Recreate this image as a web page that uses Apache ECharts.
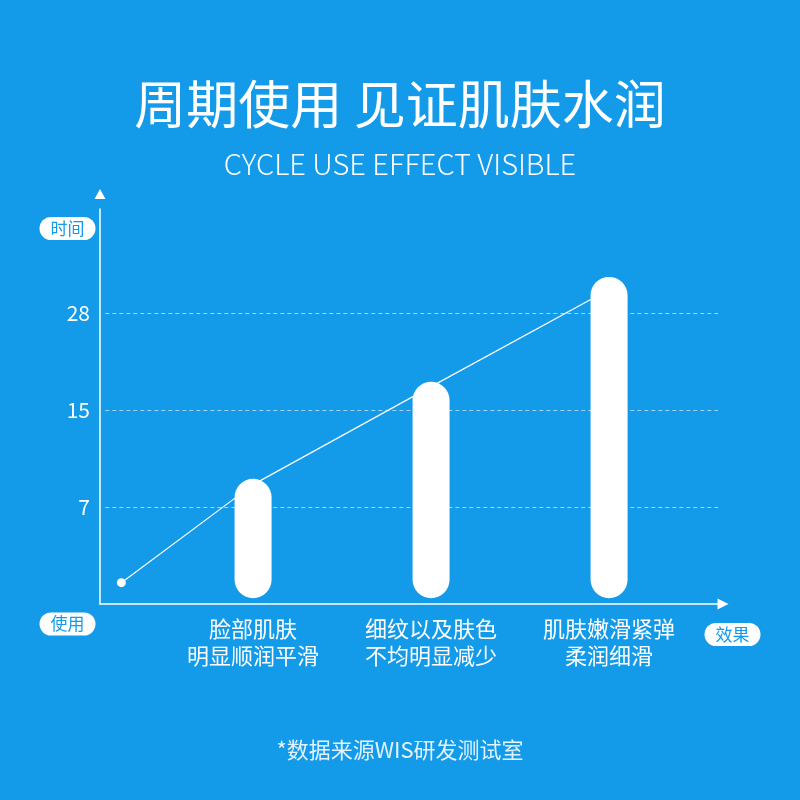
<!DOCTYPE html>
<html>
<head>
<meta charset="utf-8">
<script src="https://cdn.jsdelivr.net/npm/echarts@6/dist/echarts.min.js"></script>
<style>html,body{margin:0;padding:0;background:#139ae9;}#c{width:800px;height:800px;}</style>
</head>
<body>
<div id="c"></div>
<script>
// categories (effects) and their positions on the x axis
const categories = ['脸部肌肤\n明显顺润平滑', '细纹以及肤色\n不均明显减少', '肌肤嫩滑紧弹\n柔润细滑'];
const categoryPos = [1, 2, 3];
// y tick labels (days) at axis positions 1,2,3
const yTickLabels = ['7', '15', '28'];
const yTickPos = [1, 2, 3];
// bars: bottom and top (axis units)
const barBottom = [0.06, 0.06, 0.06];
const barTop = [1.29, 2.29, 3.37];
// trend line points
const lineX = [0.26, 1, 2, 3];
const lineY = [0.22, 1.23, 2.24, 3.24];

const BG = '#139ae9';
const FONT = 'Noto Sans CJK SC';

const barData = categoryPos.map((x, i) => [x, barBottom[i], barTop[i]]);
const lineData = lineX.map((x, i) => [x, lineY[i]]);

const chart = echarts.init(document.getElementById('c'));
chart.setOption({
  backgroundColor: BG,
  textStyle: { fontFamily: FONT },
  animation: false,
  title: [
    { text: '周期使用 见证肌肤水润', left: 'center', top: 70,
      textStyle: { color: '#fff', fontSize: 52, fontWeight: 'normal', lineHeight: 58, fontFamily: FONT } },
    { text: 'CYCLE USE EFFECT VISIBLE', left: 'center', top: 142,
      textStyle: { color: '#fff', fontSize: 29, fontWeight: 300, lineHeight: 34, fontFamily: FONT } },
    { text: '*数据来源WIS研发测试室', left: 'center', top: 731,
      textStyle: { color: 'rgba(255,255,255,0.88)', fontSize: 22, fontWeight: 'normal', lineHeight: 27, fontFamily: FONT } }
  ],
  grid: { left: 100, right: 82, top: 209, bottom: 196 },
  xAxis: {
    type: 'value', min: 0.14, max: 3.612,
    axisLine: { show: true, lineStyle: { color: '#fff', width: 1.5 },
      symbol: ['none', 'triangle'], symbolSize: [11, 11], symbolOffset: [0, 5] },
    axisTick: { show: false },
    splitLine: { show: false },
    axisLabel: {
      customValues: categoryPos,
      formatter: v => categories[categoryPos.indexOf(v)] || '',
      color: '#fff', fontSize: 22, lineHeight: 27, margin: 11, fontFamily: FONT
    }
  },
  yAxis: {
    type: 'value', min: 0, max: 4.07,
    axisLine: { show: true, lineStyle: { color: '#fff', width: 1.5 },
      symbol: ['none', 'triangle'], symbolSize: [11, 10], symbolOffset: [0, 15] },
    axisTick: { show: false },
    splitLine: { show: false },
    axisLabel: {
      customValues: yTickPos,
      formatter: v => yTickLabels[yTickPos.indexOf(v)] || '',
      color: '#fff', fontSize: 21, margin: 10, fontFamily: FONT
    }
  },
  series: [
    {
      type: 'line', z: 2, data: lineData,
      symbol: 'circle', symbolSize: 9, showSymbol: true,
      itemStyle: { color: '#fff' },
      lineStyle: { color: '#fff', width: 1.2 },
      markLine: {
        silent: true, symbol: 'none', label: { show: false },
        lineStyle: { color: 'rgba(255,255,255,0.6)', type: [4, 3], width: 1 },
        data: yTickPos.map(v => [{ xAxis: 0.17, yAxis: v }, { xAxis: 3.612, yAxis: v }])
      }
    },
    {
      type: 'custom', z: 3, data: barData,
      encode: { x: 0, y: [1, 2] },
      renderItem: (params, api) => {
        const x = api.value(0);
        const p0 = api.coord([x, api.value(1)]);
        const p1 = api.coord([x, api.value(2)]);
        const w = 37;
        return {
          type: 'rect',
          shape: { x: p1[0] - w / 2, y: p1[1], width: w, height: p0[1] - p1[1], r: w / 2 },
          style: { fill: '#fff' }
        };
      }
    }
  ],
  graphic: [
    { type: 'text', x: 67.5, y: 228.5, style: { text: '时间', align: 'center', verticalAlign: 'middle',
      fill: BG, backgroundColor: '#fff', borderRadius: 13, padding: [3, 11], font: '17px "Noto Sans CJK SC"' } },
    { type: 'text', x: 67.5, y: 624, style: { text: '使用', align: 'center', verticalAlign: 'middle',
      fill: BG, backgroundColor: '#fff', borderRadius: 13, padding: [3, 11], font: '17px "Noto Sans CJK SC"' } },
    { type: 'text', x: 732.5, y: 634.5, style: { text: '效果', align: 'center', verticalAlign: 'middle',
      fill: BG, backgroundColor: '#fff', borderRadius: 13, padding: [3, 11], font: '17px "Noto Sans CJK SC"' } }
  ]
});
</script>
</body>
</html>
